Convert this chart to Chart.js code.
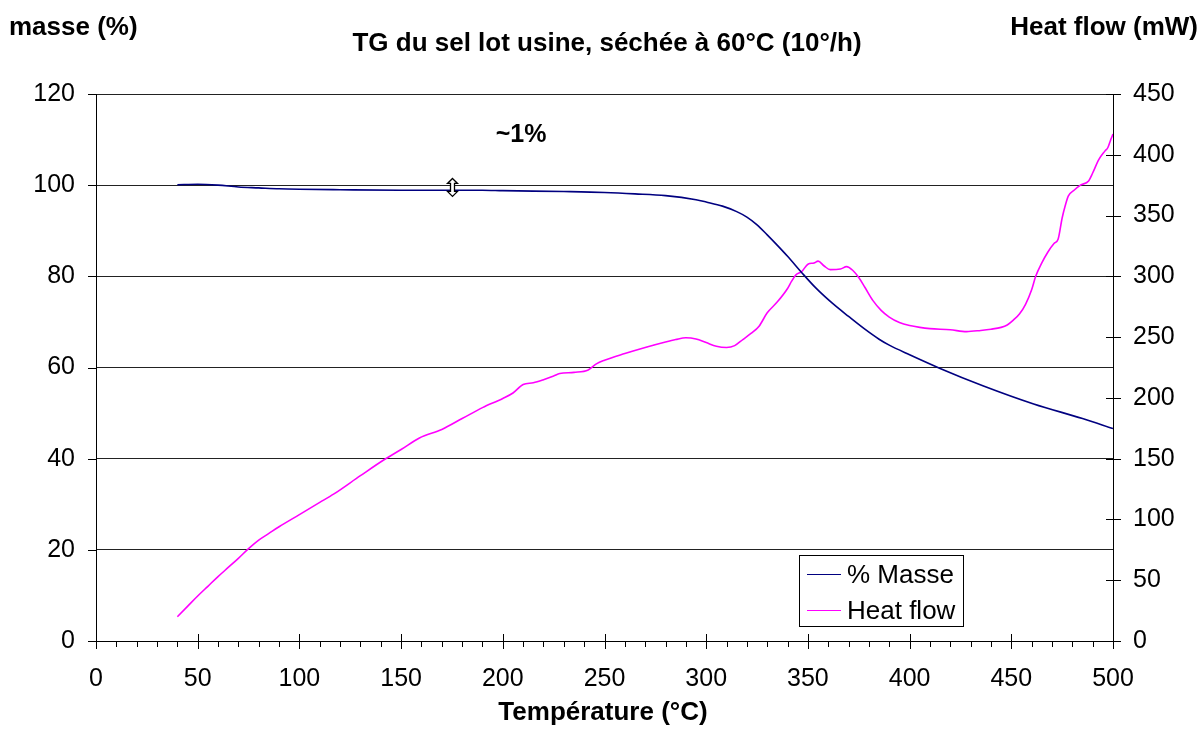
<!DOCTYPE html>
<html>
<head>
<meta charset="utf-8">
<script src="https://cdn.jsdelivr.net/npm/chart.js@4.4.1/dist/chart.umd.min.js"></script>
<style>
html,body{margin:0;padding:0;background:#fff;}
canvas{display:block;}
</style>
</head>
<body>
<canvas id="c" width="1202" height="733"></canvas>
<script>
// ---- Data ----
const massTemps  = [40, 50, 60, 70, 80, 90, 100, 120, 150, 190, 200, 230, 250, 265, 280, 295, 300, 308, 315, 320, 325, 330, 335, 340, 347, 354, 362, 370, 378, 385, 390, 400, 415, 436, 461, 485, 500];
const massValues = [100.1, 100.2, 100.0, 99.6, 99.4, 99.2, 99.1, 99.0, 98.9, 98.9, 98.8, 98.6, 98.4, 98.1, 97.7, 96.8, 96.3, 95.4, 94.2, 93.0, 91.3, 89.1, 86.8, 84.4, 80.8, 77.4, 74.1, 71.2, 68.4, 66.2, 64.9, 62.8, 59.8, 56.0, 52.0, 48.8, 46.6];

const heatTemps  = [40, 45, 50, 55, 60, 65, 70, 75, 80, 85, 90, 100, 110, 117, 130, 142, 150, 159, 170, 180, 190, 200, 205, 210, 215, 220, 225, 228, 235, 242, 246, 250, 260, 270, 280, 285, 290, 295, 300, 305, 310, 314, 318, 322, 326, 330, 335, 340, 342, 344, 347, 350, 353, 355, 358, 361, 366, 369, 372, 375, 378, 382, 386, 390, 395, 400, 405, 410, 420, 428, 435, 440, 445, 448, 451, 454, 457, 460, 462, 465, 468, 471, 473, 475, 476.5, 478, 481, 484, 488, 490, 493, 496, 497.5, 499, 500];
const heatValues = [20, 28.5, 37, 45, 53, 60.5, 68, 76, 83, 88.5, 94, 104, 114, 121, 136, 149.5, 157.5, 167, 174, 183, 192, 199.5, 204, 211, 212.5, 215, 218, 220, 221, 223, 228, 231, 236.5, 241.5, 246, 248, 249.5, 248.5, 245.5, 242.5, 241.5, 243, 248, 253, 259, 270, 279, 290, 296, 301, 304, 310, 311, 312.5, 308.5, 305.5, 306, 308, 305, 299, 291, 280, 272, 266.5, 262, 259.5, 258, 257, 256, 254.5, 255.5, 256.5, 258, 260, 264, 269, 277, 289, 300, 311, 320, 327, 330.5, 348, 358, 366, 371, 375, 378.5, 385, 396, 403, 406, 413, 417];

const xTickValues     = [0, 50, 100, 150, 200, 250, 300, 350, 400, 450, 500];
const leftTickValues  = [0, 20, 40, 60, 80, 100, 120];
const rightTickValues = [0, 50, 100, 150, 200, 250, 300, 350, 400, 450];

const seriesNames = ['% Masse', 'Heat flow'];
const seriesColors = ['#000080', '#FF00FF'];
const chartTitle = 'TG du sel lot usine, séchée à 60°C (10°/h)';
const leftAxisTitle = 'masse (%)';
const rightAxisTitle = 'Heat flow (mW)';
const xAxisTitle = 'Température (°C)';
const annotationText = '~1%';
const annotationPos = {x: 209, y: 110.9};
const arrowPos = {x: 175, y: 99.5};

const FONT = '"Liberation Sans", Arial, sans-serif';

function pts(xs, ys){ return xs.map((x,i)=>({x:x, y:ys[i]})); }

const decorPlugin = {
  id: 'decor',
  beforeDraw(chart){
    const ctx = chart.ctx;
    ctx.save();
    ctx.fillStyle = '#fff';
    ctx.fillRect(0,0,chart.width,chart.height);
    ctx.restore();
  },
  afterDraw(chart){
    const ctx = chart.ctx;
    const xs = chart.scales.x, ys = chart.scales.y, y1 = chart.scales.y1;
    const a = chart.chartArea;
    ctx.save();
    ctx.strokeStyle = '#000';
    ctx.lineWidth = 1;
    // x ticks: minor every 10 (down), major every 50 (crossing)
    ctx.beginPath();
    for (let v = 0; v <= 500; v += 10) {
      const px = Math.round(xs.getPixelForValue(v)) + 0.5;
      if (v % 50 === 0) { ctx.moveTo(px, a.bottom - 7); ctx.lineTo(px, a.bottom + 8); }
      else { ctx.moveTo(px, a.bottom); ctx.lineTo(px, a.bottom + 6); }
    }
    // left y ticks (outside)
    leftTickValues.forEach(v => {
      const py = Math.round(ys.getPixelForValue(v)) + 0.5;
      ctx.moveTo(a.left - 8, py); ctx.lineTo(a.left, py);
    });
    // right y ticks (crossing)
    rightTickValues.forEach(v => {
      const py = Math.round(y1.getPixelForValue(v)) + 0.5;
      ctx.moveTo(a.right - 7, py); ctx.lineTo(a.right + 8, py);
    });
    ctx.stroke();

    // titles
    ctx.fillStyle = '#000';
    ctx.textBaseline = 'middle';
    ctx.font = 'bold 26px ' + FONT;
    ctx.textAlign = 'center';
    ctx.fillText(chartTitle, 607, 44);
    ctx.textAlign = 'left';
    ctx.fillText(leftAxisTitle, 9, 28);
    ctx.textAlign = 'right';
    ctx.fillText(rightAxisTitle, 1198, 28);
    ctx.textAlign = 'center';
    ctx.fillText(xAxisTitle, 603, 713);

    // annotation "~1%"
    ctx.font = 'bold 25px ' + FONT;
    ctx.fillText(annotationText, xs.getPixelForValue(annotationPos.x), ys.getPixelForValue(annotationPos.y));

    // double-headed arrow marker
    const cx = Math.round(xs.getPixelForValue(arrowPos.x)) + 0.5;
    const cy = ys.getPixelForValue(arrowPos.y);
    ctx.beginPath();
    ctx.moveTo(cx, cy - 9);
    ctx.lineTo(cx + 5, cy - 4);
    ctx.lineTo(cx + 2, cy - 4);
    ctx.lineTo(cx + 2, cy + 4);
    ctx.lineTo(cx + 5, cy + 4);
    ctx.lineTo(cx, cy + 9);
    ctx.lineTo(cx - 5, cy + 4);
    ctx.lineTo(cx - 2, cy + 4);
    ctx.lineTo(cx - 2, cy - 4);
    ctx.lineTo(cx - 5, cy - 4);
    ctx.closePath();
    ctx.fillStyle = '#fff';
    ctx.fill();
    ctx.lineWidth = 1.3;
    ctx.strokeStyle = '#000';
    ctx.stroke();

    // legend box
    const lx = 799.5, ly = 555.5, lw = 164, lh = 71;
    ctx.fillStyle = '#fff';
    ctx.fillRect(lx, ly, lw, lh);
    ctx.lineWidth = 1;
    ctx.strokeStyle = '#000';
    ctx.strokeRect(lx, ly, lw, lh);
    ctx.font = '26px ' + FONT;
    ctx.textAlign = 'left';
    ctx.textBaseline = 'middle';
    const rowsY = [574.5, 610.5];
    chart.data.datasets.forEach((ds, i) => {
      ctx.strokeStyle = ds.borderColor;
      ctx.lineWidth = 1.2;
      ctx.beginPath();
      ctx.moveTo(807, rowsY[i]);
      ctx.lineTo(841, rowsY[i]);
      ctx.stroke();
      ctx.fillStyle = '#000';
      ctx.fillText(ds.label, 847, rowsY[i] + 1);
    });
    ctx.restore();
  }
};

new Chart(document.getElementById('c'), {
  type: 'line',
  data: {
    datasets: [
      { label: seriesNames[0], data: pts(massTemps, massValues), borderColor: seriesColors[0], backgroundColor: seriesColors[0],
        borderWidth: 1.6, pointRadius: 0, cubicInterpolationMode: 'monotone', yAxisID: 'y', fill: false },
      { label: seriesNames[1], data: pts(heatTemps, heatValues), borderColor: seriesColors[1], backgroundColor: seriesColors[1],
        borderWidth: 1.6, pointRadius: 0, cubicInterpolationMode: 'monotone', yAxisID: 'y1', fill: false }
    ]
  },
  options: {
    responsive: false,
    animation: false,
    layout: { padding: { top: 94, left: 0, right: 0, bottom: 0 } },
    plugins: { legend: { display: false }, title: { display: false }, tooltip: { enabled: false } },
    scales: {
      x: {
        type: 'linear', position: 'bottom', min: 0, max: 500,
        afterBuildTicks: s => { s.ticks = xTickValues.map(v => ({value: v})); },
        afterFit: s => { s.height = 92; },
        grid: { display: false, drawTicks: false },
        border: { display: true, color: '#000', width: 1 },
        ticks: { color: '#000', font: { family: FONT, size: 25 }, padding: 23, maxRotation: 0, autoSkip: false }
      },
      y: {
        type: 'linear', position: 'left', min: 0, max: 120,
        afterBuildTicks: s => { s.ticks = leftTickValues.map(v => ({value: v})); },
        afterFit: s => { s.width = 96; },
        grid: { color: '#222', lineWidth: 1, drawTicks: false },
        border: { display: true, color: '#000', width: 1 },
        ticks: { color: '#000', font: { family: FONT, size: 25 }, padding: 21, autoSkip: false }
      },
      y1: {
        type: 'linear', position: 'right', min: 0, max: 450,
        afterBuildTicks: s => { s.ticks = rightTickValues.map(v => ({value: v})); },
        afterFit: s => { s.width = 89; },
        grid: { display: false, drawOnChartArea: false, drawTicks: false },
        border: { display: true, color: '#000', width: 1 },
        ticks: { color: '#000', font: { family: FONT, size: 25 }, padding: 20, autoSkip: false }
      }
    }
  },
  plugins: [decorPlugin]
});
</script>
</body>
</html>
